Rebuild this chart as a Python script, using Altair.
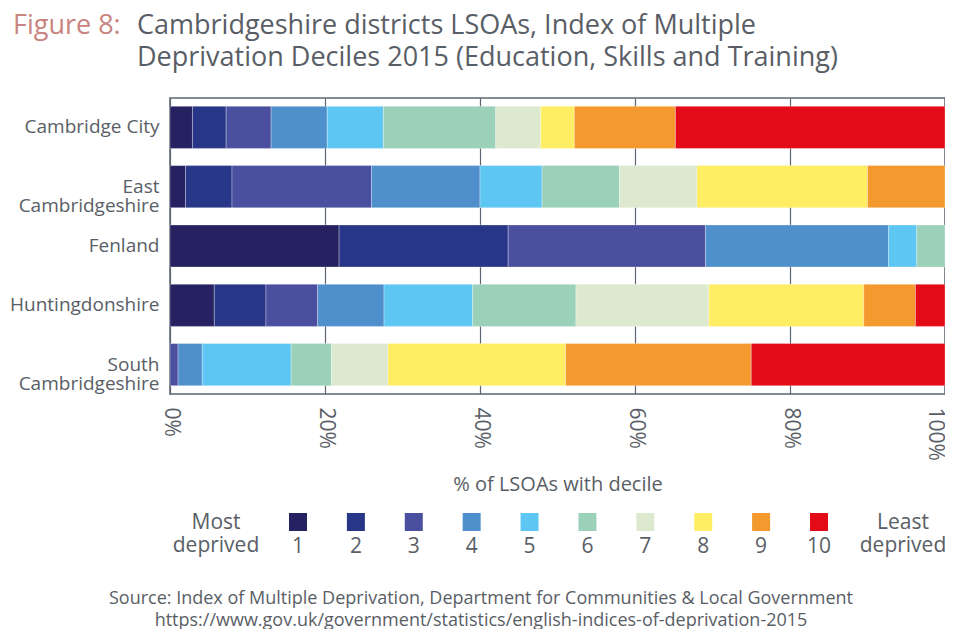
import altair as alt
import pandas as pd

# ---------------- data ----------------
districts = ["Cambridge City", "East Cambridgeshire", "Fenland",
             "Huntingdonshire", "South Cambridgeshire"]
deciles = [1, 2, 3, 4, 5, 6, 7, 8, 9, 10]
# number of LSOAs in each IMD (Education, Skills & Training) decile
cambridge_city = [2, 3, 4, 5, 5, 10, 4, 3, 9, 24]
east_cambs = [1, 3, 9, 7, 4, 5, 5, 11, 5, 0]
fenland = [12, 12, 14, 13, 2, 2, 0, 0, 0, 0]
huntingdonshire = [6, 7, 7, 9, 12, 14, 18, 21, 7, 4]
south_cambs = [0, 0, 1, 3, 11, 5, 7, 22, 23, 24]

decile_colors = ["#262261", "#283687", "#4a4f9f", "#4f90cc", "#5ec6f3",
                 "#9bd0b9", "#dde9cf", "#ffed63", "#f4992d", "#e20b17"]
x_ticks = [0, 0.2, 0.4, 0.6, 0.8, 1.0]

title_prefix = "Figure 8:"
title_lines = ["Cambridgeshire districts LSOAs, Index of Multiple",
               "Deprivation Deciles 2015 (Education, Skills and Training)"]
x_title = "% of LSOAs with decile"
legend_left = ["Most", "deprived"]
legend_right = ["Least", "deprived"]
source_lines = ["Source: Index of Multiple Deprivation, Department for Communities & Local Government",
                "https://www.gov.uk/government/statistics/english-indices-of-deprivation-2015"]

# ---------------- build table ----------------
series = [cambridge_city, east_cambs, fenland, huntingdonshire, south_cambs]
rows = []
for d, vals in zip(districts, series):
    for dec, v in zip(deciles, vals):
        rows.append({"district": d, "decile": dec, "count": v})
df = pd.DataFrame(rows)
leg_df = pd.DataFrame({"decile": deciles})

GRAY = "#595e66"
FRAME = "#5d6670"
FONT = "Open Sans"

color_scale = alt.Scale(domain=deciles, range=decile_colors)
leg_x = alt.Scale(type="point", domain=deciles, range=[128, 649], padding=0)

bars = alt.Chart(df).transform_filter("datum.count > 0").mark_bar(
    stroke="white", strokeWidth=0.6, strokeOpacity=0.5
).encode(
    y=alt.Y("district:N", sort=districts,
            scale=alt.Scale(paddingInner=0.29, paddingOuter=0.14),
            axis=alt.Axis(title=None, ticks=False, domain=False, grid=False,
                          labelFontSize=19, labelColor=GRAY, labelFont=FONT,
                          labelPadding=11, labelLineHeight=19, labelLimit=300,
                          labelExpr="indexof(datum.label, ' Cambridgeshire') > 0 ? split(datum.label, ' ') : datum.label")),
    x=alt.X("count:Q", stack="normalize",
            scale=alt.Scale(domain=[0, 1], nice=False),
            axis=alt.Axis(values=x_ticks, format=".0%", title=x_title,
                          ticks=False, domain=False, grid=True,
                          gridColor=FRAME, gridWidth=1.2, gridOpacity=1,
                          labelAngle=90, labelAlign="left",
                          labelBaseline={"condition": {"test": "datum.value >= 1", "value": "top"},
                                         "value": "middle"},
                          labelFontSize=21, labelColor=GRAY, labelFont=FONT,
                          labelPadding=13, labelFlush=False,
                          titleFontSize=20, titleFontWeight="normal",
                          titleColor=GRAY, titleFont=FONT, titlePadding=14)),
    color=alt.Color("decile:O", scale=color_scale, legend=None),
    order=alt.Order("decile:Q", sort="ascending"),
)

leg_squares = alt.Chart(leg_df).mark_square(size=324, opacity=1).encode(
    x=alt.X("decile:O", scale=leg_x, axis=None),
    y=alt.value(424),
    color=alt.Color("decile:O", scale=color_scale, legend=None),
)

leg_numbers = alt.Chart(leg_df).mark_text(
    fontSize=21, font=FONT, color=GRAY, baseline="alphabetic", align="center"
).encode(
    x=alt.X("decile:O", scale=leg_x, axis=None),
    y=alt.value(455),
    text="decile:O",
)

leg_left = alt.Chart(pd.DataFrame({"t": [legend_left]})).mark_text(
    fontSize=21, font=FONT, color=GRAY, baseline="alphabetic", align="center",
    lineHeight=23
).encode(x=alt.value(46), y=alt.value(431), text="t")

leg_right = alt.Chart(pd.DataFrame({"t": [legend_right]})).mark_text(
    fontSize=21, font=FONT, color=GRAY, baseline="alphabetic", align="center",
    lineHeight=23
).encode(x=alt.value(733), y=alt.value(431), text="t")

title_a = alt.Chart(pd.DataFrame({"t": [title_prefix]})).mark_text(
    fontSize=27, font=FONT, color="#c98480", align="left", baseline="alphabetic"
).encode(x=alt.value(-157), y=alt.value(-64), text="t")

title_b = alt.Chart(pd.DataFrame({"t": [title_lines]})).mark_text(
    fontSize=27, font=FONT, color=GRAY, align="left", baseline="alphabetic",
    lineHeight=32
).encode(x=alt.value(-33), y=alt.value(-64), text="t")

source = alt.Chart(pd.DataFrame({"t": [source_lines]})).mark_text(
    fontSize=18, font=FONT, color=GRAY, align="center", baseline="alphabetic",
    lineHeight=22
).encode(x=alt.value(311), y=alt.value(506), text="t")

chart = alt.layer(
    bars, leg_squares, leg_numbers, leg_left, leg_right, title_a, title_b, source
).resolve_scale(x="independent").properties(
    width=775, height=296,
    padding={"left": 162, "top": 90, "right": 0, "bottom": 235},
    autosize=alt.AutoSizeParams(type="none"),
    background="white",
).configure_view(stroke=FRAME, strokeWidth=1.5)

chart.save("out.html", embed_options={"renderer": "svg", "actions": False})
